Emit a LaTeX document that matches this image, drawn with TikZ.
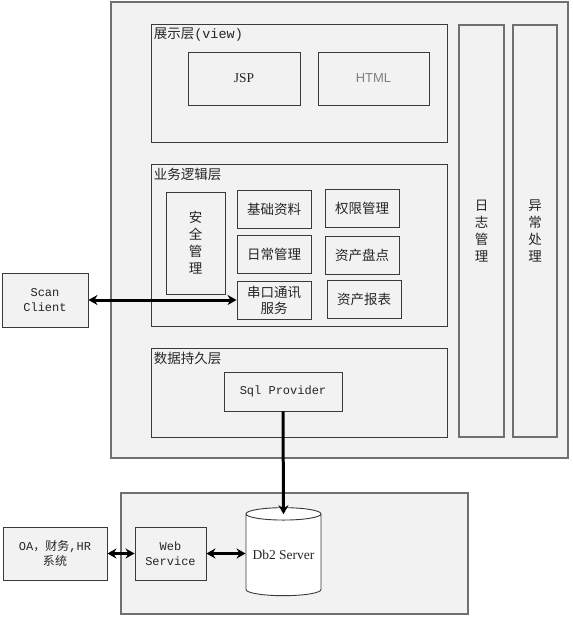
\documentclass[tikz,border=0pt]{standalone}
\usepackage{fontspec}
\setmainfont{Liberation Serif}
\setsansfont{Liberation Sans}
\setmonofont{Liberation Mono}
\newfontfamily\cjk{Noto Sans CJK SC}
\usetikzlibrary{shapes.geometric,arrows.meta}
\definecolor{boxfill}{HTML}{F2F2F2}
\definecolor{boxline}{HTML}{3A3A3A}
\definecolor{frameline}{HTML}{707070}
\definecolor{txt}{HTML}{262626}

\begin{document}
\begin{tikzpicture}[x=1pt,y=-1pt,
  layer/.style={draw=frameline,fill=boxfill,line width=1.2pt,inner sep=0pt},
  module/.style={draw=boxline,fill=boxfill,line width=0.9pt,inner sep=0pt,align=center,
    text=txt,font=\cjk\fontsize{13.5}{17}\selectfont},
  layertitle/.style={anchor=north west,inner sep=0pt,xshift=3pt,yshift=-4pt,text=txt,
    font=\cjk\fontsize{13.5}{15}\selectfont},
  link/.style={{Stealth[length=9pt,width=10pt]}-{Stealth[length=9pt,width=10pt]},line width=3pt}]
  \useasboundingbox (0,0) rectangle (572,617);

  % application frame
  \node[layer,minimum width=457,minimum height=456] (app) at (339.5,230) {};

  % presentation layer
  \node[layer,draw=boxline,line width=0.9pt,minimum width=296,minimum height=118] (view) at (299,83) {};
  \node[layertitle] at (view.north west) {展示层{\ttfamily(view)}};
  \node[module,minimum width=112,minimum height=53,font=\fontsize{13.5}{15}\selectfont] (jsp) at (244,78.5) {JSP};
  \node[module,minimum width=111,minimum height=53,text=gray,font=\sffamily\fontsize{13}{15}\selectfont] (html) at (373.5,78.5) {HTML};

  % side bars
  \node[module,draw=frameline,line width=1.1pt,minimum width=45,minimum height=412] (log) at (481.5,231) {日\\志\\管\\理};
  \node[module,draw=frameline,line width=1.1pt,minimum width=44,minimum height=412] (err) at (535,231) {异\\常\\处\\理};

  % business logic layer
  \node[layer,draw=boxline,line width=0.9pt,minimum width=296,minimum height=162] (biz) at (299,245) {};
  \node[layertitle] at (biz.north west) {业务逻辑层};
  \node[module,minimum width=59,minimum height=102] (sec) at (195.5,243) {安\\全\\管\\理};
  \foreach \name/\x/\y/\label in {base/274/209.5/基础资料, daily/274/254/日常管理,
      right/362/208/权限管理, check/362/255.5/资产盘点, report/364/299.5/资产报表}
    \node[module,minimum width=74,minimum height=38] (\name) at (\x,\y) {\label};
  \node[module,minimum width=74,minimum height=38,font=\cjk\fontsize{13.5}{16}\selectfont] (serial) at (274,300) {串口通讯\\服务};

  % persistence layer
  \node[layer,draw=boxline,line width=0.9pt,minimum width=296,minimum height=89] (data) at (299,392.5) {};
  \node[layertitle] at (data.north west) {数据持久层};
  \node[module,minimum width=118,minimum height=39,font=\ttfamily\fontsize{12}{14}\selectfont] (sql) at (283,391.5) {Sql Provider};

  % scan client
  \node[module,minimum width=86,minimum height=54,font=\ttfamily\fontsize{12}{15}\selectfont] (scan) at (45,300) {Scan\\Client};

  % server side
  \node[layer,minimum width=347,minimum height=121] (srv) at (294.5,553.5) {};
  \node[module,minimum width=104,minimum height=53,font=\ttfamily\fontsize{12}{15}\selectfont] (oa) at (55,553.5) {OA{\cjk，财务},HR\\{\cjk 系统}};
  \node[module,minimum width=71,minimum height=53,font=\ttfamily\fontsize{12}{15}\selectfont] (ws) at (170.5,553.5) {Web\\Service};
  \node[cylinder,shape border rotate=90,aspect=0.2,draw=boxline,fill=white,line width=0.9pt,
    minimum width=75,minimum height=88,inner sep=0pt,text=txt,font=\fontsize{13.5}{15}\selectfont] (db) at (283.5,555) {Db2 Server};

  % connectors
  \draw[link] (scan.east) -- (serial.west);
  \draw[-{Stealth[length=9pt,width=10pt]},line width=3pt] (sql.south) -- ([yshift=-7pt]db.north);
  \draw[link] (oa.east) -- (ws.west);
  \draw[link] (ws.east) -- (ws.east -| db.west);
\end{tikzpicture}
\end{document}
